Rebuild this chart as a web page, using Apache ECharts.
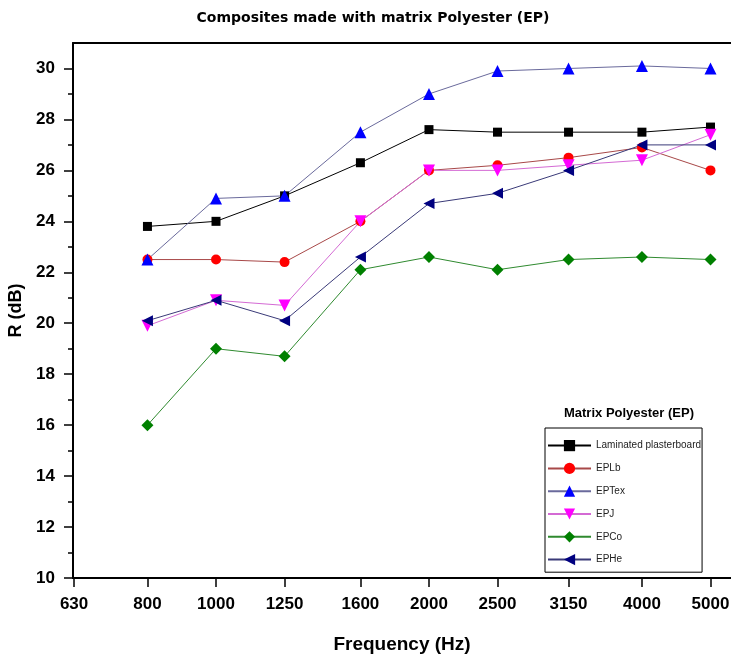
<!DOCTYPE html>
<html lang="en">
<head>
    <meta charset="UTF-8">
    <script src="https://cdn.jsdelivr.net/npm/echarts@6/dist/echarts.min.js"></script>
    <title>Composites made with matrix Polyester (EP)</title>
    <style>
        html, body { margin: 0; padding: 0; background: #fff; }
    </style>
</head>
<body>
<div id="main" style="width: 731px;height:658px;"></div>
<script type="text/javascript">
    // 1/3 octave bands; the axis is logarithmic in frequency
    var freqs = [630, 800, 1000, 1250, 1600, 2000, 2500, 3150, 4000, 5000];
    var dataFreqs = [800, 1000, 1250, 1600, 2000, 2500, 3150, 4000, 5000];
    var yTicks = [10, 12, 14, 16, 18, 20, 22, 24, 26, 28, 30];
    var yMinor = [11, 13, 15, 17, 19, 21, 23, 25, 27, 29];

    // R (dB) from 800 Hz to 5000 Hz
    var laminated = [23.8, 24.0, 25.0, 26.3, 27.6, 27.5, 27.5, 27.5, 27.7];
    var eplb      = [22.5, 22.5, 22.4, 24.0, 26.0, 26.2, 26.5, 26.9, 26.0];
    var eptex     = [22.5, 24.9, 25.0, 27.5, 29.0, 29.9, 30.0, 30.1, 30.0];
    var epj       = [19.9, 20.9, 20.7, 24.0, 26.0, 26.0, 26.2, 26.4, 27.4];
    var epco      = [16.0, 19.0, 18.7, 22.1, 22.6, 22.1, 22.5, 22.6, 22.5];
    var ephe      = [20.1, 20.9, 20.1, 22.6, 24.7, 25.1, 26.0, 27.0, 27.0];

    var xTickVals = freqs.map(function (f) { return Math.log10(f); });

    function toPoints(vals) {
        return vals.map(function (v, i) { return [Math.log10(dataFreqs[i]), v]; });
    }

    function freqLabel(v) {
        var best = '', d = 1;
        freqs.forEach(function (f) {
            var dd = Math.abs(Math.log10(f) - v);
            if (dd < d) { d = dd; best = String(f); }
        });
        return d < 0.01 ? best : '';
    }

    function mkSeries(name, vals, symbol, size, markColor, lineColor) {
        return {
            name: name,
            type: 'line',
            data: toPoints(vals),
            symbol: symbol,
            symbolSize: size,
            showAllSymbol: true,
            itemStyle: { color: markColor },
            lineStyle: { color: lineColor, width: 1 },
            emphasis: { disabled: true },
            animation: false
        };
    }

    var myChart = echarts.init(document.getElementById('main'));

    var axisFont = { fontFamily: 'Liberation Sans', fontWeight: 'bold', fontSize: 17, color: '#000' };
    var xMin = Math.log10(630) - 0.0015;
    var xMax = Math.log10(5000) + 0.029;

    var option = {
        backgroundColor: '#fff',
        animation: false,
        graphic: [
            {
                type: 'text', x: 373, y: 18,
                style: {
                    text: 'Composites made with matrix Polyester (EP)',
                    font: 'bold 14px "DejaVu Sans"', fill: '#000',
                    textAlign: 'center', textVerticalAlign: 'middle'
                }
            },
            {
                type: 'text', x: 629, y: 413,
                style: {
                    text: 'Matrix Polyester (EP)',
                    font: 'bold 13px "Liberation Sans"', fill: '#000',
                    textAlign: 'center', textVerticalAlign: 'middle'
                }
            }
        ],
        grid: {
            left: 73,
            right: 0,
            top: 43,
            bottom: 80,
            containLabel: false,
            outerBoundsMode: 'none'
        },
        legend: {
            orient: 'vertical',
            left: 545,
            top: 428,
            itemWidth: 43,
            itemHeight: 14,
            itemGap: 11.6,
            padding: [12, 1, 7, 2],
            borderColor: '#000',
            borderWidth: 1,
            selectedMode: false,
            textStyle: { fontFamily: 'Liberation Sans', fontSize: 10, color: '#222' },
            data: ['Laminated plasterboard', 'EPLb', 'EPTex', 'EPJ', 'EPCo', 'EPHe']
        },
        xAxis: [
            {
                type: 'value',
                min: xMin,
                max: xMax,
                name: 'Frequency (Hz)',
                nameLocation: 'middle',
                nameGap: 57,
                nameTextStyle: { fontFamily: 'Liberation Sans', fontWeight: 'bold', fontSize: 19, color: '#000' },
                axisLine: { lineStyle: { color: '#000', width: 2 } },
                axisTick: { inside: false, length: 9, lineStyle: { color: '#000', width: 1.5 },
                    customValues: xTickVals },
                axisLabel: Object.assign({ margin: 18, customValues: xTickVals,
                    showMinLabel: true, showMaxLabel: true,
                    formatter: freqLabel }, axisFont),
                splitLine: { show: false }
            },
            {
                type: 'value',
                position: 'top',
                min: xMin,
                max: xMax,
                axisLine: { show: true, lineStyle: { color: '#000', width: 2 } },
                axisTick: { show: false },
                axisLabel: { show: false },
                splitLine: { show: false }
            }
        ],
        yAxis: [
            {
                type: 'value',
                min: 10,
                max: 31,
                interval: 2,
                name: 'R (dB)',
                nameLocation: 'middle',
                nameGap: 44,
                nameTextStyle: { fontFamily: 'Liberation Sans', fontWeight: 'bold', fontSize: 18, color: '#000' },
                axisLine: { show: true, lineStyle: { color: '#000', width: 2 } },
                axisTick: { show: true, length: 9, lineStyle: { color: '#000', width: 1.5 }, customValues: yTicks },
                axisLabel: Object.assign({ margin: 18, customValues: yTicks }, axisFont),
                splitLine: { show: false }
            },
            {
                type: 'value',
                min: 10,
                max: 31,
                position: 'left',
                axisLine: { show: false },
                axisTick: { show: true, length: 5, lineStyle: { color: '#000', width: 1.5 }, customValues: yMinor },
                axisLabel: { show: false },
                splitLine: { show: false }
            }
        ],
        series: [
            mkSeries('Laminated plasterboard', laminated, 'rect', 9, '#000000', '#000000'),
            mkSeries('EPLb', eplb, 'circle', 10, '#ff0000', '#a84848'),
            mkSeries('EPTex', eptex, 'triangle', 12, '#0000ff', '#6a6a9c'),
            mkSeries('EPJ', epj, 'path://M0,0L10,0L5,9Z', 12, '#ff00ff', '#d46ad4'),
            mkSeries('EPCo', epco, 'diamond', 12, '#008000', '#2f8a2f'),
            mkSeries('EPHe', ephe, 'path://M0,5L9,0L9,10Z', 11, '#000080', '#3a3a78')
        ]
    };

    myChart.setOption(option);
</script>
</body>
</html>
